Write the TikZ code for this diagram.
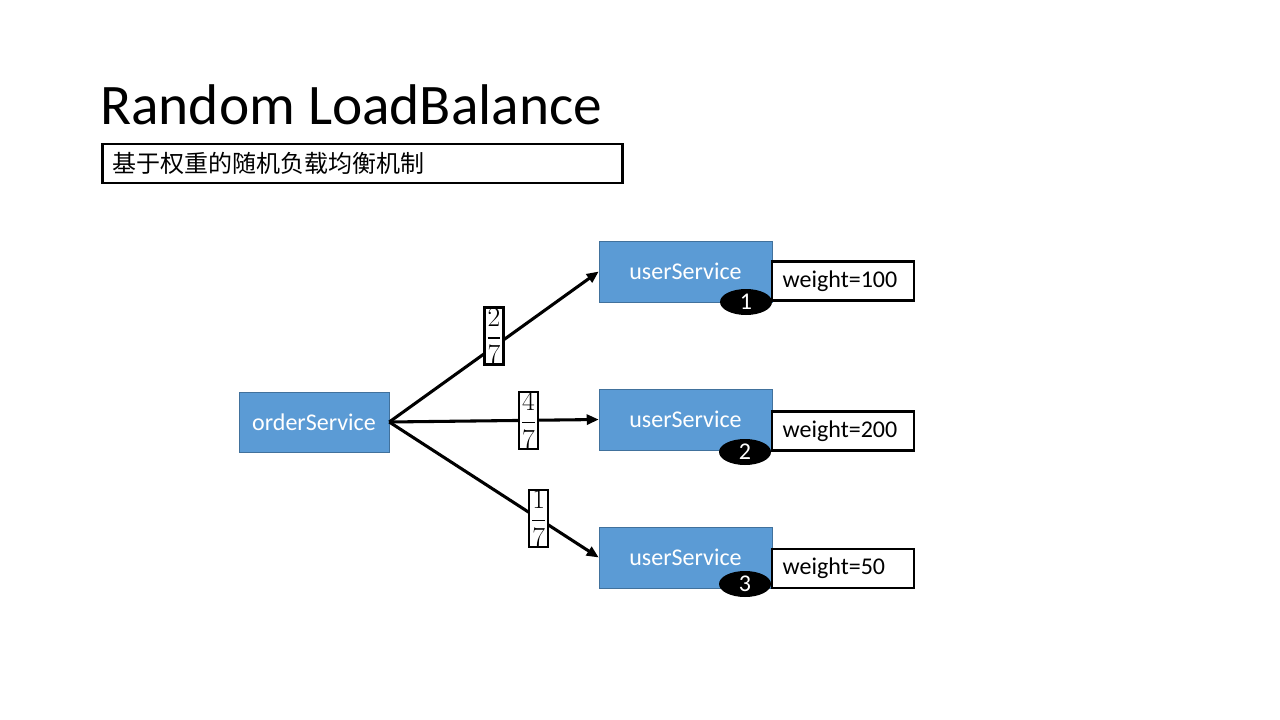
\documentclass[tikz,border=0pt]{standalone}
\usepackage{amsmath}
\usepackage{fontspec}
\setmainfont{Carlito}
\newfontfamily\cjk{Noto Sans CJK SC}
\usetikzlibrary{arrows.meta,shapes.geometric}
\definecolor{svcblue}{HTML}{5B9BD5}
\definecolor{svcline}{HTML}{41719C}
\tikzset{
	svc/.style={rectangle,draw=svcline,fill=svcblue,text=white,font=\fontsize{18}{21}\selectfont},
	wbox/.style={rectangle,draw=black,line width=1.9pt,fill=white,minimum height=29.25pt,text width=90.5pt,inner xsep=8pt,align=left,font=\fontsize{18}{21}\selectfont},
	idx/.style={ellipse,fill=black,text=white,minimum width=39pt,minimum height=19.5pt,inner sep=0pt,font=\fontsize{18}{21}\selectfont},
	frac/.style={rectangle,draw=black,line width=1.8pt,fill=white,inner xsep=1.2pt,inner ysep=0.5pt,font=\fontsize{22}{26}\selectfont},
	link/.style={line width=2.3pt,-{Triangle[length=9pt,width=7.5pt]}}
}
\begin{document}
\begin{tikzpicture}[x=0.75pt,y=-0.75pt]
		\useasboundingbox[fill=white] (0,0) rectangle (1280,720);
		\node[anchor=base west,inner sep=0pt,font=\fontsize{43}{50}\selectfont] (title) at (100,125) {Random LoadBalance};
		\node[rectangle,draw=black,line width=1.9pt,minimum width=390pt,minimum height=29.25pt,inner xsep=8pt,anchor=west,align=left,font=\cjk\fontsize{18}{21}\selectfont,text width=374pt] (sub) at (101,163.5) {基于权重的随机负载均衡机制};
		\node[svc,minimum width=112.5pt,minimum height=45pt] (order) at (314,422) {orderService};
		\node[svc,minimum width=129.75pt,minimum height=45.75pt] (u1) at (685.5,271.5) {userService};
		\node[svc,minimum width=129.75pt,minimum height=45.75pt] (u2) at (685.5,419.5) {userService};
		\node[svc,minimum width=129.75pt,minimum height=45.75pt] (u3) at (685.5,557.5) {userService};
		\node[wbox] (w1) at (843,281) {weight=100};
		\node[wbox] (w2) at (843,431) {weight=200};
		\node[wbox] (w3) at (843,568.5) {weight=50};
		\node[idx] (n1) at (746,302) {1};
		\node[idx] (n2) at (745,452) {2};
		\node[idx] (n3) at (745,584) {3};
		\draw[link] (order.east) -- (u1.west)
			node[frac,pos=0.5,yshift=8pt] (f1) {$\dfrac{2}{7}$};
		\draw[link] (order.east) -- (u2.west)
			node[frac,pos=0.665] (f2) {$\dfrac{4}{7}$};
		\draw[link] (order.east) -- (u3.west)
			node[frac,pos=0.713] (f3) {$\dfrac{1}{7}$};
	\end{tikzpicture}
\end{document}
